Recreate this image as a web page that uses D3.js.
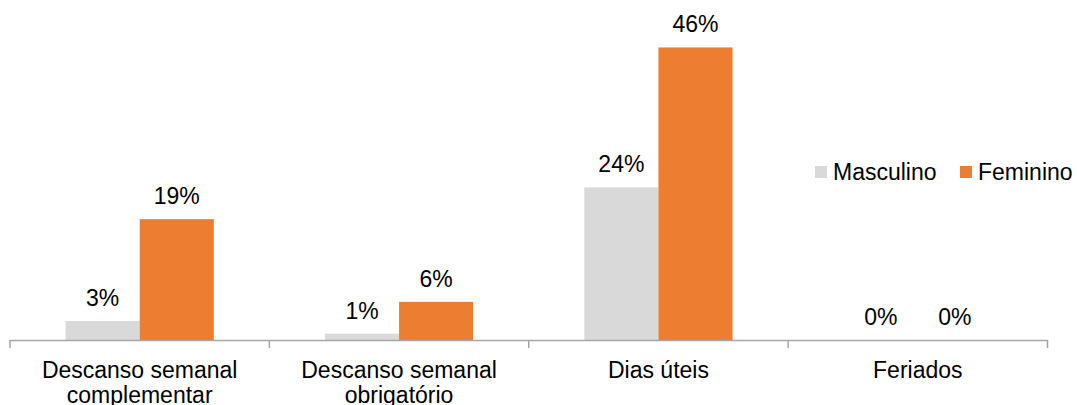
<!DOCTYPE html>
<html>
<head>
<meta charset="utf-8">
<script src="https://cdn.jsdelivr.net/npm/d3@7"></script>
<style>
  html, body { margin: 0; padding: 0; background: #fff; }
  svg { display: block; font-family: "Liberation Sans", Arial, sans-serif; }
</style>
</head>
<body>
<svg id="chart" width="1077" height="405"></svg>
<script>
// Categories (day types) and shares per sex
const categories = ["Descanso semanal complementar", "Descanso semanal obrigatório", "Dias úteis", "Feriados"];
const seriesNames = ["Masculino", "Feminino"];
const masculino = [0.03, 0.01, 0.24, 0.00];
const feminino  = [0.19, 0.06, 0.46, 0.00];
const seriesColors = ["#d9d9d9", "#ed7d31"];

const svg = d3.select("#chart");
const baseY = 340;
const fontSize = 23;

const x = d3.scaleBand().domain(categories).range([10, 1047.5]).paddingInner(0).paddingOuter(0);
const x1 = d3.scaleBand().domain(seriesNames).range([0, x.bandwidth()]).paddingInner(0).paddingOuter(0.75);
const y = d3.scaleLinear().domain([0, 0.5]).range([baseY, baseY - 318]);

const rows = categories.map((c, i) => ({
  category: c,
  values: [
    { series: seriesNames[0], value: masculino[i], color: seriesColors[0] },
    { series: seriesNames[1], value: feminino[i], color: seriesColors[1] }
  ]
}));

const fmt = d3.format(".0%");

// Bars
const groups = svg.append("g").selectAll("g").data(rows).join("g")
  .attr("transform", d => `translate(${x(d.category)},0)`);

groups.selectAll("rect").data(d => d.values).join("rect")
  .attr("x", d => x1(d.series))
  .attr("y", d => y(d.value))
  .attr("width", x1.bandwidth())
  .attr("height", d => baseY - y(d.value))
  .attr("fill", d => d.color);

// Value labels
groups.selectAll("text").data(d => d.values).join("text")
  .attr("x", d => x1(d.series) + x1.bandwidth() / 2)
  .attr("y", d => y(d.value) - 15)
  .attr("text-anchor", "middle")
  .attr("font-size", fontSize)
  .attr("fill", "#000")
  .text(d => fmt(d.value));

// Category axis: baseline with ticks at band boundaries
const axisG = svg.append("g");
axisG.append("line")
  .attr("x1", x.range()[0]).attr("x2", x.range()[1])
  .attr("y1", baseY + 0.5).attr("y2", baseY + 0.5)
  .attr("stroke", "#a6a6a6").attr("stroke-width", 1.5);

const edges = categories.map(c => x(c)).concat([x.range()[1]]);
axisG.selectAll("line.tick").data(edges).join("line")
  .attr("class", "tick")
  .attr("x1", d => d).attr("x2", d => d)
  .attr("y1", baseY).attr("y2", baseY + 8)
  .attr("stroke", "#a6a6a6").attr("stroke-width", 1.5);

// Category labels, wrapped to the band width
const labels = axisG.selectAll("text.cat").data(categories).join("text")
  .attr("class", "cat")
  .attr("x", d => x(d) + x.bandwidth() / 2)
  .attr("y", 378)
  .attr("text-anchor", "middle")
  .attr("font-size", fontSize)
  .attr("fill", "#000");

labels.each(function(d) {
  const t = d3.select(this);
  const words = d.split(" ");
  const maxW = x.bandwidth() - 20;
  let lines = [], line = [];
  const probe = t.append("tspan");
  words.forEach(w => {
    const test = line.concat([w]).join(" ");
    probe.text(test);
    if (probe.node().getComputedTextLength() > maxW && line.length) {
      lines.push(line.join(" "));
      line = [w];
    } else {
      line.push(w);
    }
  });
  lines.push(line.join(" "));
  probe.remove();
  lines.forEach((ln, i) => {
    t.append("tspan")
      .attr("x", x(d) + x.bandwidth() / 2)
      .attr("dy", i === 0 ? 0 : 25)
      .text(ln);
  });
});

// Legend
const legend = svg.append("g").attr("transform", "translate(815,172)");
const legendX = [0, 145];
seriesNames.forEach((s, i) => {
  const g = legend.append("g").attr("transform", `translate(${legendX[i]},0)`);
  g.append("rect").attr("x", 0).attr("y", -6).attr("width", 12).attr("height", 12).attr("fill", seriesColors[i]);
  g.append("text").attr("x", 18).attr("y", 8).attr("font-size", fontSize).attr("fill", "#000").text(s);
});
</script>
</body>
</html>
